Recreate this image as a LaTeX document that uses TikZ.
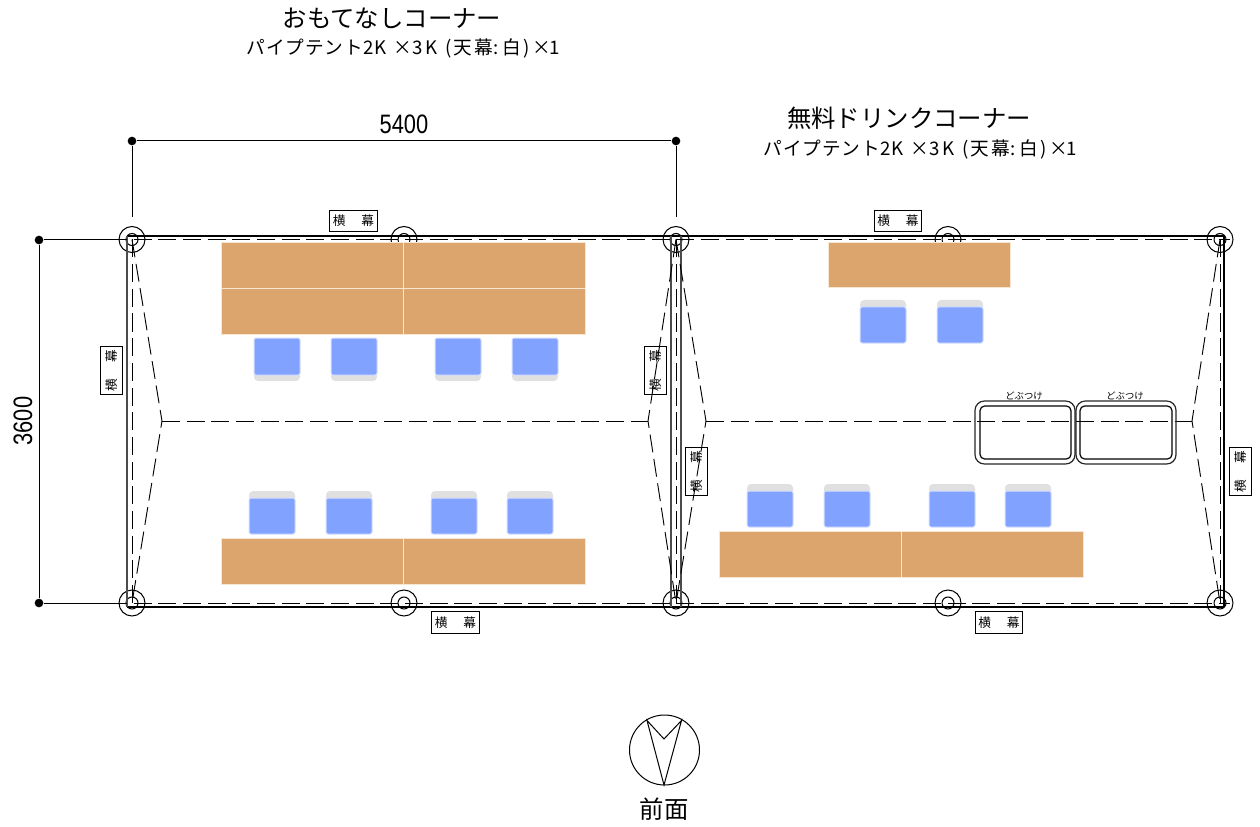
\documentclass[tikz,border=0pt]{standalone}
\usepackage{fontspec}
\usepackage{graphicx}
\setmainfont{Noto Sans CJK JP}
\newfontfamily\numfont{Liberation Sans}
\definecolor{tan}{HTML}{DBA56D}
\definecolor{tanb}{HTML}{F7E6D2}
\definecolor{chairb}{HTML}{82A2FF}
\definecolor{chaire}{HTML}{D5DFFF}
\definecolor{chairg}{HTML}{E0E0E0}
\newdimen\pxu \pxu=.75pt
\newcommand{\cel}[2]{\makebox[#1\pxu]{#2}}
\newcommand{\gp}[1]{\hspace*{#1\pxu}}
\newcommand{\subt}{\cel{19.5}{パ}\cel{19.5}{イ}\cel{19.5}{プ}\cel{19.5}{テ}\cel{19.5}{ン}\cel{19.5}{ト}\cel{10}{2}\cel{14}{K}\gp{10}\cel{11}{×}\gp{4}\cel{10}{3}\gp{3}\cel{13}{K}\gp{7}\cel{7}{(}\gp{1}\cel{19}{天}\gp{1}\cel{20}{幕}\cel{5}{:}\gp{4}\cel{18}{白}\gp{3}\cel{7}{)}\gp{5}\cel{13}{×}\gp{4}\cel{5}{1}}
\tikzset{
 ln/.style={draw=black,line width=.85pt},
 thinl/.style={draw=black,line width=.75pt},
 graynl/.style={draw=black!70,line width=.9pt},
 dsh/.style={draw=black,line width=.7pt,dash pattern=on 13.5pt off 5pt},
 tbl/.style={fill=tan,draw=tanb,line width=.75pt},
 seat/.style={fill=chairb,draw=chaire,line width=.75pt,rounded corners=1.5pt},
 lab/.style={draw=black,fill=white,line width=.75pt,inner sep=0pt,minimum width=35.5pt,minimum height=16pt,font=\fontsize{9.5}{9.5}\selectfont},
 labv/.style={lab,rotate=90},
 pole/.style={circle,draw=black,line width=.75pt,inner sep=0pt},
 tt/.style={inner sep=0pt,font=\fontsize{18.3}{20}\selectfont},
 st/.style={inner sep=0pt,font=\fontsize{14}{16}\selectfont},
 dotn/.style={circle,fill=black,inner sep=0pt,minimum size=6.5pt},
 dbf/.style={inner sep=0pt,font=\fontsize{7}{8}\selectfont},
 tub/.style={draw=black!85,line width=.9pt,rounded corners=7pt,fill=none},
 tubi/.style={draw=black,line width=.9pt,rounded corners=3.5pt,fill=none}
}
\begin{document}
\begin{tikzpicture}[x=0.75pt,y=-0.75pt]
\useasboundingbox (0,0) rectangle (1260,827);
% named anchor points
\foreach \n/\x in {a/132,b/404,c/676,d/948,e/1220}{
  \coordinate (\n t) at (\x,239.5);
  \coordinate (\n b) at (\x,603);
}
\coordinate (rl) at (162,421);\coordinate (rm1) at (648,421);
\coordinate (rm2) at (706,421);\coordinate (rr) at (1192,421);
% banner labels
\node[lab] (l1) at (353.5,221) {横\hspace{1.25em}幕};
\node[lab] (l2) at (898,221) {横\hspace{1.25em}幕};
\node[lab] (l3) at (455.5,622.5) {横\hspace{1.25em}幕};
\node[lab] (l4) at (999,622.5) {横\hspace{1.25em}幕};
\node[labv] (l5) at (111.5,370.5) {横\hspace{1.25em}幕};
\node[labv] (l6) at (655.5,370.5) {横\hspace{1.25em}幕};
\node[labv] (l7) at (696.5,471.5) {横\hspace{1.25em}幕};
\node[labv] (l8) at (1240.5,471.5) {横\hspace{1.25em}幕};
% poles
\foreach \n in {a,b,c,d,e}{
  \node[pole,minimum size=19.5pt] (\n to) at (\n t) {};
  \node[pole,minimum size=9pt] (\n ti) at (\n t) {};
  \node[pole,minimum size=19.5pt] (\n bo) at (\n b) {};
  \node[pole,minimum size=9pt] (\n bi) at (\n b) {};
}
% solid frame
\draw[ln] (127,236) -- (1224,236);
\draw[ln] (127,607) -- (1224,607);
\draw[graynl] (127,236) -- (127,607);
\draw[graynl] (671,236) -- (671,607);
\draw[graynl] (681,236) -- (681,607);
\draw[ln] (1224,236) -- (1224,607);
% dashed roof lines
\draw[dsh] (109,239.5) -- (1230,239.5);
\draw[dsh] (109,603) -- (1230,603);
\foreach \n in {a,c,e} \draw[dsh] (\n t) -- (\n b);
\draw[dsh] (at) -- (rl) -- (ab);
\draw[dsh] (ct) -- (rm1) -- (cb);
\draw[dsh] (ct) -- (rm2) -- (cb);
\draw[dsh] (et) -- (rr) -- (eb);
\draw[dsh] (rl) -- (rm1);
\draw[dsh] (rm2) -- (rr);
% tables
\foreach \xa/\xb/\ya/\yb in {221.5/403.5/242.5/288.5,403.5/585.5/242.5/288.5,221.5/403.5/288.5/334,403.5/585.5/288.5/334,221.5/403.5/538.5/584,403.5/585.5/538.5/584,828.5/1010.5/242.5/288,719.5/901/531.5/577,901/1083/531.5/577}
  \draw[tbl] (\xa,\ya) rectangle (\xb,\yb);
% chairs
\foreach \x in {254,331,435,512}{
  \fill[chairg,rounded corners=3pt] (\x,360) rectangle ++(46,21);
  \draw[seat] (\x,338) rectangle ++(46,37);
}
\foreach \x/\y in {249/491,326/491,431/491,507/491,860/300,937/300,747/484,824/484,929/484,1005/484}{
  \fill[chairg,rounded corners=3pt] (\x,\y) rectangle ++(46,21);
  \draw[seat] (\x,\y+7) rectangle ++(46,36);
}
% tubs
\foreach \xa/\xb/\xc/\xd in {975/1075/980/1071,1076/1176/1080/1172}{
  \draw[tub] (\xa,401) rectangle (\xb,464);
  \draw[tubi] (\xc,406) rectangle (\xd,459);
}
\node[dbf] (db1) at (1024,396) {どぶつけ};
\node[dbf] (db2) at (1125,396) {どぶつけ};
% dimensions
\node[dotn] (d1) at (132,141) {};
\node[dotn] (d2) at (676,141) {};
\node[dotn] (d3) at (39,240) {};
\node[dotn] (d4) at (39,603) {};
\coordinate (e1) at (132,217);\coordinate (e2) at (676,217);
\coordinate (e3) at (109,240);\coordinate (e4) at (109,603);
\draw[thinl] (d1) -- (d2);
\draw[thinl] (d3) -- (d4);
\draw[thinl] (d1) -- (e1);
\draw[thinl] (d2) -- (e2);
\draw[thinl] (d3) -- (e3);
\draw[thinl] (d4) -- (e4);
\node[inner sep=0pt] (w) at (404,124) {\numfont\fontsize{20}{20}\selectfont\scalebox{.82}[1]{5400}};
\node[inner sep=0pt,rotate=90] (h) at (23,421) {\numfont\fontsize{20}{20}\selectfont\scalebox{.82}[1]{3600}};
% titles
\node[tt] (t1) at (392,18) {おもてなしコーナー};
\node[st] (s1) at (402,48) {\subt};
\node[tt] (t2) at (909,118) {無料ドリンクコーナー};
\node[st] (s2) at (919,149) {\subt};
% compass
\node[circle,draw=black,line width=.75pt,minimum size=52.5pt,inner sep=0pt] (comp) at (664.5,750) {};
\coordinate (c1) at (647,720.5);\coordinate (c2) at (664,785);
\coordinate (c3) at (681.5,720.5);\coordinate (c4) at (664,739);
\draw[thinl,line join=miter] (c1) -- (c2) -- (c3) -- (c4) -- cycle;
\node[tt] (f) at (664,809) {前面};
\end{tikzpicture}
\end{document}
